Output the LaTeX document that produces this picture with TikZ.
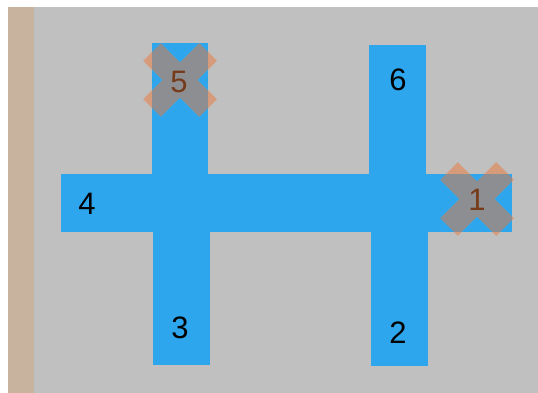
\documentclass[tikz,border=0pt]{standalone}
\usepackage{fontspec}
\setmainfont{Liberation Sans}
\definecolor{bgray}{HTML}{C0C0C0}
\definecolor{tanstrip}{HTML}{C8B49E}
\definecolor{barblue}{HTML}{2DA6EE}
\definecolor{xorange}{RGB}{237,119,55}
\begin{document}
\begin{tikzpicture}[x=1pt,y=-1pt,
  barfill/.style={fill=barblue},
  lbl/.style={font=\fontsize{31}{31}\selectfont, inner sep=0pt, text=black},
  crossmark/.style={draw=xorange, draw opacity=0.5, line width=25pt, line cap=butt}]
\useasboundingbox (0,0) rectangle (538,393);
\fill[white] (0,0) rectangle (538,393);
\fill[bgray] (8,7) rectangle (538,393);
\fill[tanstrip] (8,7) rectangle (34,393);
% bars
\fill[barfill] (152,43) rectangle (208,175);
\fill[barfill] (153,174) rectangle (210,365);
\fill[barfill] (369,45) rectangle (426,175);
\fill[barfill] (371,174) rectangle (428,366);
\fill[barfill] (61,174) rectangle (512,232);
% labels
\node[lbl] (n5) at (179,82) {5};
\node[lbl] (n6) at (398,80) {6};
\node[lbl] (n4) at (87,204) {4};
\node[lbl] (n1) at (477,200) {1};
\node[lbl] (n3) at (180,328) {3};
\node[lbl] (n2) at (398,333) {2};
% crosses
\coordinate (c5) at (180,80);
\coordinate (c1) at (477,199);
\draw[crossmark] ([shift={(-28,-28)}]c5) -- ([shift={(28,28)}]c5)
                 ([shift={(-28,28)}]c5) -- ([shift={(28,-28)}]c5);
\draw[crossmark] ([shift={(-28,-28)}]c1) -- ([shift={(28,28)}]c1)
                 ([shift={(-28,28)}]c1) -- ([shift={(28,-28)}]c1);
\end{tikzpicture}
\end{document}
